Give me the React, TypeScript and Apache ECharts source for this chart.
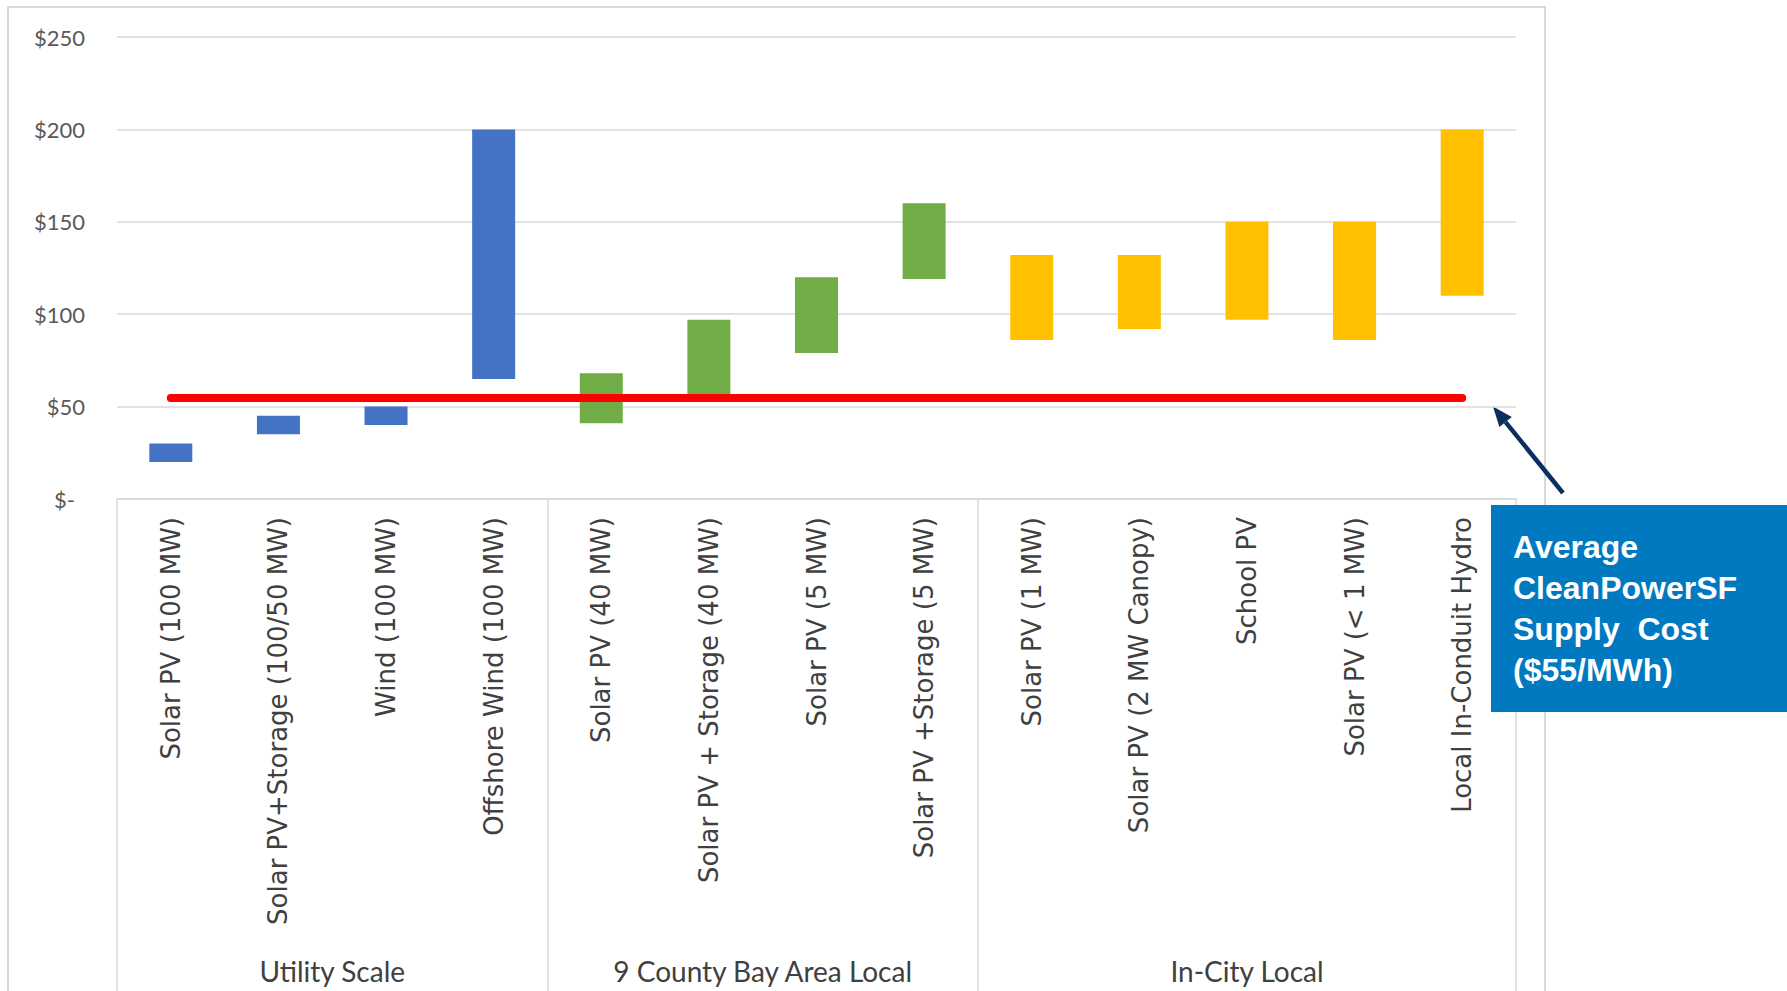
import React, { useEffect, useRef } from "react";
import * as echarts from "echarts";

const categories = [
  "Solar PV (100 MW)",
  "Solar PV+Storage (100/50 MW)",
  "Wind (100 MW)",
  "Offshore Wind (100 MW)",
  "Solar PV (40 MW)",
  "Solar PV + Storage (40 MW)",
  "Solar PV (5 MW)",
  "Solar PV +Storage (5 MW)",
  "Solar PV (1 MW)",
  "Solar PV (2 MW Canopy)",
  "School PV",
  "Solar PV (< 1 MW)",
  "Local In-Conduit Hydro",
];
const categoryGroup = [0, 0, 0, 0, 1, 1, 1, 1, 2, 2, 2, 2, 2];
const groups = ["Utility Scale", "9 County Bay Area Local", "In-City Local"];
const groupBoundaries = [0, 4, 8, 13];
const groupColors = ["#4472C4", "#70AD47", "#FFC000"];
const costLow = [20, 35, 40, 65, 41, 55, 79, 119, 86, 92, 97, 86, 110];
const costHigh = [30, 45, 50, 200, 68, 97, 120, 160, 132, 132, 150, 150, 200];
const averageSupplyCost = 55;
const calloutLines = ["Average", "CleanPowerSF", "Supply  Cost", "($55/MWh)"];

export default function App() {
  const ref = useRef<HTMLDivElement>(null);
  useEffect(() => {
    if (!ref.current) return;
    const chart = echarts.init(ref.current, null, { renderer: "svg" });
    const groupCenters = groupBoundaries.slice(0, -1).map((b, i) => (b + groupBoundaries[i + 1]) / 2);

    const tail = [1563, 493];
    const tip = [1493, 406.5];
    const dx = tip[0] - tail[0];
    const dy = tip[1] - tail[1];
    const len = Math.sqrt(dx * dx + dy * dy);
    const ux = dx / len;
    const uy = dy / len;
    const headLen = 20;
    const headHalf = 8;
    const bx = tip[0] - ux * headLen;
    const by = tip[1] - uy * headLen;
    const px = -uy * headHalf;
    const py = ux * headHalf;

    chart.setOption({
      animation: false,
      backgroundColor: "#ffffff",
      grid: { left: 117, right: 271, top: 37, bottom: 492, containLabel: false },
      xAxis: [
        {
          type: "category",
          data: categories,
          position: "bottom",
          axisLine: { show: true, lineStyle: { color: "#D9D9D9", width: 1.5 } },
          axisTick: { show: false },
          splitLine: { show: false },
          axisLabel: {
            rotate: 90,
            interval: 0,
            margin: 18,
            fontFamily: "DejaVu Sans",
            fontSize: 26,
            color: "#404040",
          },
        },
        {
          type: "value",
          min: 0,
          max: 13,
          position: "bottom",
          axisLine: { show: false },
          splitLine: { show: false },
          axisTick: {
            show: true,
            customValues: groupBoundaries,
            length: 500,
            lineStyle: { color: "#D9D9D9", width: 1.5 },
          },
          axisLabel: {
            customValues: groupCenters,
            margin: 458,
            fontFamily: "Lato",
            fontSize: 28,
            color: "#404040",
            formatter: (v: number) => {
              const i = groupCenters.findIndex((c) => Math.abs(c - v) < 0.01);
              return i >= 0 ? groups[i] : "";
            },
          },
        },
      ],
      yAxis: {
        type: "value",
        min: 0,
        max: 250,
        interval: 50,
        axisLine: { show: false },
        axisTick: { show: false },
        splitLine: { lineStyle: { color: "#D9D9D9", width: 1.5 } },
        axisLabel: {
          margin: 32,
          fontFamily: "Lato",
          fontSize: 22,
          color: "#595959",
          formatter: (v: number) => (v === 0 ? "{z|$-}" : "$" + v),
          rich: { z: { fontFamily: "Lato", fontSize: 22, color: "#595959", padding: [0, 10, 0, 0] } },
        },
      },
      series: [
        {
          type: "bar",
          stack: "range",
          barWidth: 43,
          silent: true,
          itemStyle: { color: "transparent" },
          data: costLow,
        },
        {
          type: "bar",
          stack: "range",
          barWidth: 43,
          data: costHigh.map((h, i) => ({
            value: h - costLow[i],
            itemStyle: { color: groupColors[categoryGroup[i]] },
          })),
        },
        {
          type: "line",
          data: [],
          z: 10,
          markLine: {
            silent: true,
            symbol: ["none", "none"],
            label: { show: false },
            lineStyle: { color: "#FF0000", width: 8, type: "solid", cap: "round" },
            data: [
              [
                { coord: [categories[0], averageSupplyCost] },
                { coord: [categories[categories.length - 1], averageSupplyCost] },
              ],
            ],
          },
        },
      ],
      graphic: [
        {
          type: "rect",
          silent: true,
          z: -10,
          shape: { x: 8, y: 7, width: 1537, height: 1000 },
          style: { fill: "none", stroke: "#D9D9D9", lineWidth: 2 },
        },
        {
          type: "line",
          silent: true,
          shape: { x1: tail[0], y1: tail[1], x2: bx, y2: by },
          style: { stroke: "#0B2F5E", lineWidth: 4.5 },
        },
        {
          type: "polygon",
          silent: true,
          shape: { points: [[tip[0], tip[1]], [bx + px, by + py], [bx - px, by - py]] },
          style: { fill: "#0B2F5E" },
        },
        {
          type: "rect",
          silent: true,
          z: 20,
          shape: { x: 1491, y: 505, width: 296, height: 207 },
          style: { fill: "#0079C1" },
        },
        ...calloutLines.map((t, i) => ({
          type: "text",
          silent: true,
          z: 21,
          x: 1513,
          y: 547 + i * 41,
          style: {
            text: t,
            fill: "#FFFFFF",
            fontFamily: "Liberation Sans",
            fontWeight: "bold",
            fontSize: 32,
            verticalAlign: "middle",
            align: "left",
          },
        })),
      ],
    });
    return () => chart.dispose();
  }, []);

  return (
    <div
      ref={ref}
      style={{ position: "absolute", left: 0, top: 0, width: 1787, height: 991, background: "#fff" }}
    />
  );
}
